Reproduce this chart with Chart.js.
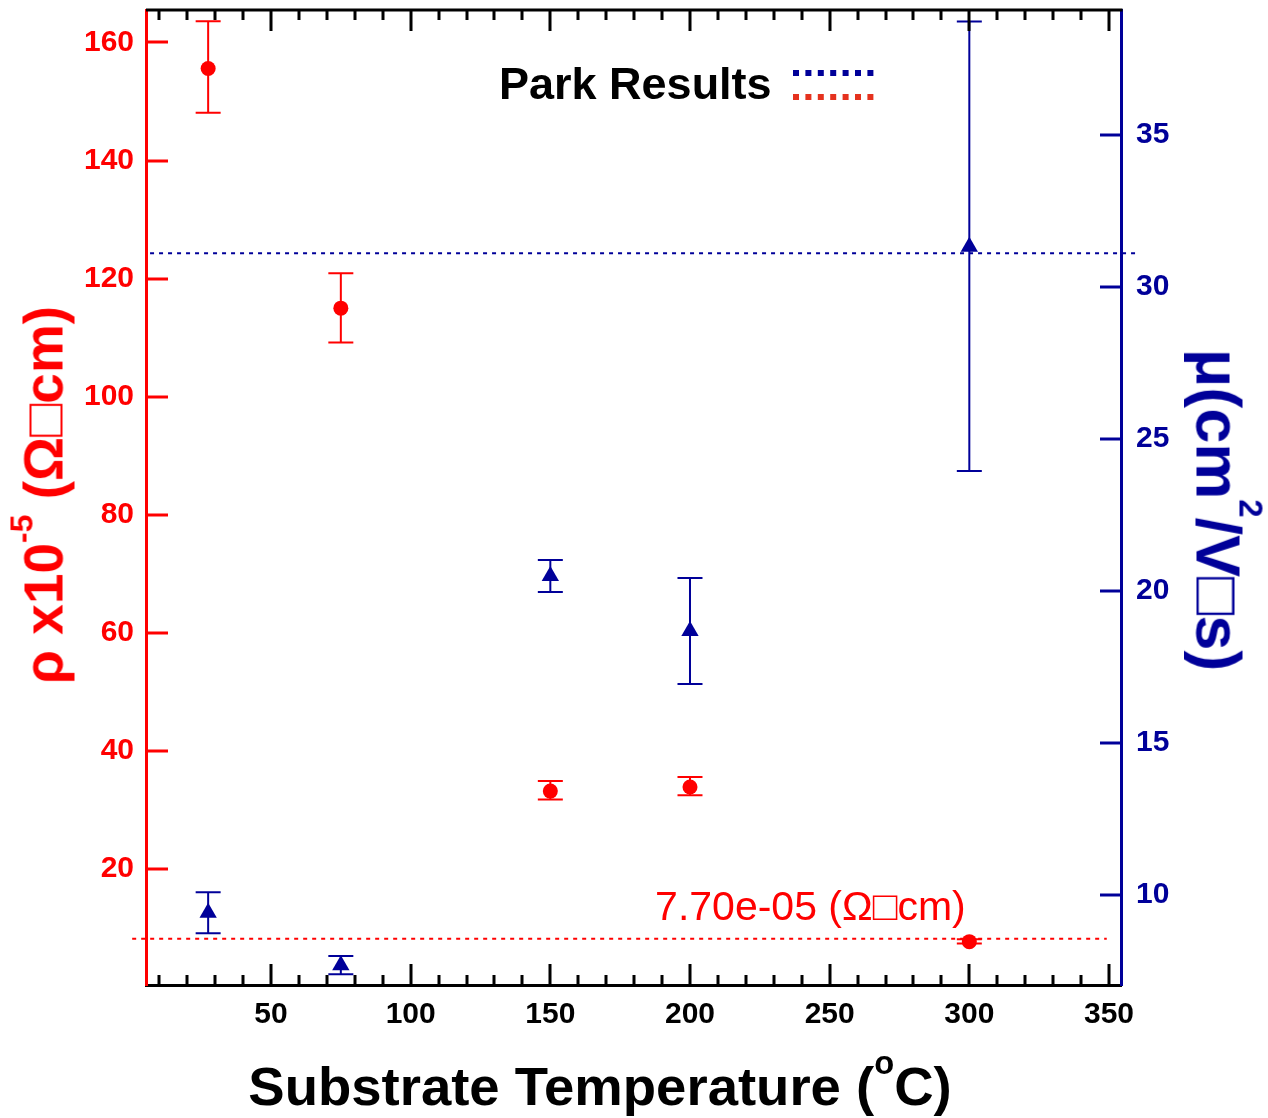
<!DOCTYPE html>
<html>
<head>
<meta charset="utf-8">
<script src="https://cdn.jsdelivr.net/npm/chart.js@4.4.0/dist/chart.umd.min.js"></script>
<style>
  body { margin: 0; background: #fff; }
  #wrap { position: relative; width: 1268px; height: 1118px; }
  .ttl { position: absolute; white-space: nowrap; line-height: 1;
         font-family: 'Liberation Sans', Arial, sans-serif; font-weight: bold; }
  .ttl sup { position: relative; vertical-align: baseline; }
</style>
</head>
<body>
<div id="wrap">
  <canvas id="g1" width="1268" height="1118"></canvas>
  <div class="ttl" id="tx" style="left:600px; top:1087px; font-size:54.5px; color:#000; transform:translate(-50%,-50%);">Substrate Temperature (<sup style="font-size:0.6em; top:-0.95em;">o</sup>C)</div>
  <div class="ttl" id="tl" style="left:44px; top:495px; font-size:55px; color:#ff0000; transform:translate(-50%,-50%) rotate(-90deg);">ρ x10<sup style="font-size:0.58em; top:-0.95em;">-5</sup> (Ω□cm)</div>
  <div class="ttl" id="tr" style="left:1218px; top:510px; font-size:63px; color:#000099; transform:translate(-50%,-50%) rotate(90deg);">μ(cm<sup style="font-size:0.52em; top:-1.3em;">2</sup>/V□s)</div>
</div>
<script>
// dados
const temps = [27.5, 75, 150, 200, 300];

const rho   = [155.6, 115.0, 33.2, 33.9, 7.7];
const rhoLo = [148.1, 109.2, 31.8, 32.5, 7.4];
const rhoHi = [163.6, 120.9, 34.9, 35.6, 8.1];

const mu   = [9.42, 7.69, 20.49, 18.68, 31.32];
const muLo = [8.74, 7.39, 19.97, 16.94, 23.95];
const muHi = [10.09, 7.99, 21.02, 20.43, 38.73];

// linhas de referência (Park)
const parkMu = 31.11;
const parkMuX = [6.7, 360.3];
const parkRho = 8.2;
const parkRhoX = [0.3, 349.2];

const xTicks = [50, 100, 150, 200, 250, 300, 350];
const xMinor = [10, 20, 30, 40, 60, 70, 80, 90, 110, 120, 130, 140, 160, 170, 180, 190,
                210, 220, 230, 240, 260, 270, 280, 290, 310, 320, 330, 340];
const leftTicks = [20, 40, 60, 80, 100, 120, 140, 160];
const rightTicks = [10, 15, 20, 25, 30, 35];

const annText = '7.70e-05 (Ω□cm)';
const annX = 187.5, annY = 11.4;

const RED = '#ff0000';
const NAVY = '#000099';
const FONT = "'Liberation Sans', Arial, sans-serif";

const errSets = [
  { axis: 'yL', lo: rhoLo, hi: rhoHi, color: RED },
  { axis: 'yR', lo: muLo, hi: muHi, color: NAVY }
];

// tira o padding automático dos eixos, para a área do gráfico ficar fixa
const noPad = s => { s.paddingTop = 0; s.paddingBottom = 0; s.paddingLeft = 0; s.paddingRight = 0; };

const extras = {
  id: 'extras',
  beforeDatasetsDraw(chart) {
    const ctx = chart.ctx, x = chart.scales.x;
    // barras de erro
    errSets.forEach(s => {
      const y = chart.scales[s.axis];
      ctx.save();
      ctx.strokeStyle = s.color;
      ctx.lineWidth = 2;
      temps.forEach((t, i) => {
        const px = x.getPixelForValue(t);
        const top = y.getPixelForValue(s.hi[i]);
        const bot = y.getPixelForValue(s.lo[i]);
        ctx.beginPath();
        ctx.moveTo(px, top); ctx.lineTo(px, bot);
        ctx.moveTo(px - 12.5, top); ctx.lineTo(px + 12.5, top);
        ctx.moveTo(px - 12.5, bot); ctx.lineTo(px + 12.5, bot);
        ctx.stroke();
      });
      ctx.restore();
    });
  },
  afterDraw(chart) {
    const ctx = chart.ctx, a = chart.chartArea;
    const x = chart.scales.x, yL = chart.scales.yL, yR = chart.scales.yR;
    ctx.save();
    ctx.lineWidth = 3;
    ctx.lineCap = 'butt';
    // eixo superior
    ctx.strokeStyle = '#000';
    ctx.beginPath();
    ctx.moveTo(a.left, a.top); ctx.lineTo(a.right + 1.5, a.top);
    ctx.stroke();
    // ticks para dentro
    const tick = (vals, len) => {
      vals.forEach(v => {
        const px = Math.round(x.getPixelForValue(v));
        ctx.beginPath();
        ctx.moveTo(px, a.bottom); ctx.lineTo(px, a.bottom - len);
        ctx.moveTo(px, a.top); ctx.lineTo(px, a.top + len);
        ctx.stroke();
      });
    };
    tick(xTicks, 21);
    tick(xMinor, 10);
    ctx.strokeStyle = RED;
    leftTicks.forEach(v => {
      const py = Math.round(yL.getPixelForValue(v));
      ctx.beginPath(); ctx.moveTo(a.left, py); ctx.lineTo(a.left + 22, py); ctx.stroke();
    });
    ctx.strokeStyle = NAVY;
    rightTicks.forEach(v => {
      const py = Math.round(yR.getPixelForValue(v));
      ctx.beginPath(); ctx.moveTo(a.right, py); ctx.lineTo(a.right - 21, py); ctx.stroke();
    });

    // legenda "Park Results"
    ctx.fillStyle = '#000';
    ctx.font = 'bold 45px ' + FONT;
    ctx.textBaseline = 'alphabetic';
    ctx.fillText('Park Results', 499, 99);
    ctx.lineWidth = 6;
    ctx.setLineDash([6, 6.4]);
    ctx.strokeStyle = NAVY;
    ctx.beginPath(); ctx.moveTo(793, 73); ctx.lineTo(877, 73); ctx.stroke();
    ctx.strokeStyle = '#e5321e';
    ctx.beginPath(); ctx.moveTo(793, 97); ctx.lineTo(877, 97); ctx.stroke();
    ctx.setLineDash([]);

    // anotação
    ctx.fillStyle = RED;
    ctx.font = '41px ' + FONT;
    ctx.fillText(annText, x.getPixelForValue(annX), yL.getPixelForValue(annY));
    ctx.restore();
  }
};

const ctx = document.getElementById('g1').getContext('2d');
new Chart(ctx, {
  type: 'scatter',
  data: {
    datasets: [
      {
        label: 'rho',
        data: temps.map((t, i) => ({ x: t, y: rho[i] })),
        yAxisID: 'yL',
        pointStyle: 'circle',
        pointRadius: 7.5,
        backgroundColor: RED,
        borderWidth: 0
      },
      {
        label: 'mu',
        data: temps.map((t, i) => ({ x: t, y: mu[i] })),
        yAxisID: 'yR',
        pointStyle: 'triangle',
        pointRadius: 10,
        backgroundColor: NAVY,
        borderWidth: 0
      },
      {
        type: 'line',
        label: 'Park mu',
        data: parkMuX.map(v => ({ x: v, y: parkMu })),
        yAxisID: 'yR',
        borderColor: NAVY,
        borderWidth: 2,
        borderDash: [4, 5],
        pointRadius: 0,
        clip: false
      },
      {
        type: 'line',
        label: 'Park rho',
        data: parkRhoX.map(v => ({ x: v, y: parkRho })),
        yAxisID: 'yL',
        borderColor: RED,
        borderWidth: 2,
        borderDash: [4, 5],
        pointRadius: 0,
        clip: false
      }
    ]
  },
  options: {
    responsive: false,
    animation: false,
    devicePixelRatio: 1,
    layout: { padding: { top: 10, left: 0, right: 0, bottom: 0 } },
    plugins: { legend: { display: false }, tooltip: { enabled: false } },
    scales: {
      x: {
        type: 'linear',
        position: 'bottom',
        min: 5.25,
        max: 354.3,
        afterBuildTicks: s => { s.ticks = xTicks.map(v => ({ value: v })); },
        afterFit: s => { s.height = 133; noPad(s); },
        grid: { display: false, drawTicks: false },
        border: { display: true, color: '#000', width: 3 },
        ticks: { color: '#000', padding: 12, font: { family: FONT, weight: 'bold', size: 30 } }
      },
      yL: {
        type: 'linear',
        position: 'left',
        min: 0.36,
        max: 165.5,
        afterBuildTicks: s => { s.ticks = leftTicks.map(v => ({ value: v })); },
        afterFit: s => { s.width = 146; noPad(s); },
        grid: { display: false, drawTicks: false },
        border: { display: true, color: RED, width: 3 },
        ticks: { color: RED, padding: 12, font: { family: FONT, weight: 'bold', size: 30 } }
      },
      yR: {
        type: 'linear',
        position: 'right',
        min: 7.04,
        max: 39.11,
        afterBuildTicks: s => { s.ticks = rightTicks.map(v => ({ value: v })); },
        afterFit: s => { s.width = 147; noPad(s); },
        grid: { display: false, drawTicks: false },
        border: { display: true, color: NAVY, width: 3 },
        ticks: { color: NAVY, padding: 15, font: { family: FONT, weight: 'bold', size: 30 } }
      }
    }
  },
  plugins: [extras]
});
</script>
</body>
</html>
